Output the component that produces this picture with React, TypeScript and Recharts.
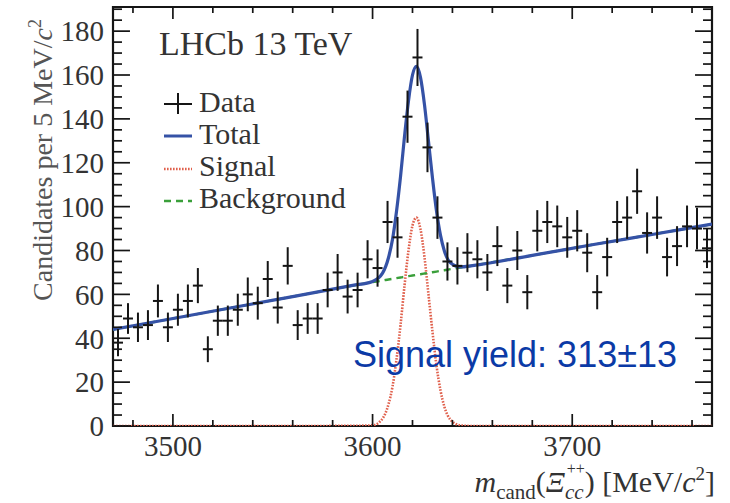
import { ComposedChart, Line, Scatter, ErrorBar, XAxis, YAxis, ReferenceLine, ReferenceArea } from 'recharts'

// candidates per 5 MeV bin, from 3470 to 3770 MeV
const counts = [
  38, 49, 45, 46, 57, 45, 53, 57, 64, 35,
  48, 48, 53, 60, 56, 67, 54, 73, 46, 49,
  49, 62, 70, 59, 62, 76, 72, 93, 86, 141,
  168, 127, 95, 75, 73, 79, 76, 70, 82, 64,
  80, 61, 89, 93, 91, 86, 89, 79, 61, 77,
  93, 95, 107, 88, 95, 77, 82, 91, 90, 81
]
const countErrors = [
  6.2, 7.0, 6.7, 6.8, 7.5, 6.7, 7.3, 7.5, 8.0, 5.9,
  6.9, 6.9, 7.3, 7.7, 7.5, 8.2, 7.3, 8.5, 6.8, 7.0,
  7.0, 7.9, 8.4, 7.7, 7.9, 8.7, 8.5, 9.6, 9.3, 11.9,
  13.0, 11.3, 9.7, 8.7, 8.5, 8.9, 8.7, 8.4, 9.1, 8.0,
  8.9, 7.8, 9.4, 9.6, 9.5, 9.3, 9.4, 8.9, 7.8, 8.8,
  9.6, 9.7, 10.3, 9.4, 9.7, 8.8, 9.1, 9.5, 9.5, 9.0
]
const massMin = 3470
const massMax = 3770
const binWidth = 5

// fit curves sampled along the mass axis
const curveMass = [
  3470, 3500, 3530, 3560, 3590, 3600, 3605, 3608, 3610, 3612, 3614, 3616, 3618, 3620,
  3622, 3624, 3626, 3628, 3630, 3632, 3634, 3636, 3639, 3644, 3650, 3680, 3710, 3740, 3770
]
const signalFit = [
  0, 0, 0, 0, 0.1, 0.3, 3.4, 10, 18, 30.5, 46, 64, 80, 91.4,
  95, 89.7, 77, 60, 43, 27.7, 16.3, 8.7, 2.9, 0.3, 0, 0, 0, 0, 0
]
const backgroundFit = [
  44, 49, 54, 59, 64, 65.6, 66.3, 66.8, 67.1, 67.4, 67.7, 68, 68.3, 68.6,
  68.9, 69.2, 69.5, 69.8, 70.1, 70.4, 70.7, 71, 71.5, 72.2, 73.1, 77.8, 82.6, 87.3, 92
]
const totalFit = [
  44, 49, 54, 59, 64.1, 65.9, 69.7, 76.8, 85.1, 97.9, 113.7, 132, 148.3, 160,
  163.9, 158.9, 146.5, 129.8, 113.1, 98.1, 87, 79.7, 74.4, 72.5, 73.1, 77.8, 82.6, 87.3, 92
]

const xTickLabels = [3500, 3600, 3700]
const yTickLabels = [0, 20, 40, 60, 80, 100, 120, 140, 160, 180]
const yMax = 191

const dataPoints = counts.map((v, i) => ({
  m: massMin + binWidth * (i + 0.5),
  v,
  err: countErrors[i],
  xerr: binWidth / 2
}))
const toCurve = (vals: number[]) => curveMass.map((m, i) => ({ m, v: vals[i] }))

const BLUE = '#3552a6'
const RED = '#e0604c'
const GREEN = '#3a9f3a'
const INK = '#151515'
const serif = '"Liberation Serif", "Times New Roman", serif'

// inward tick marks on all four sides
const xMinor: number[] = []
for (let m = 3480; m < massMax; m += 20) xMinor.push(m)
const yMinor: number[] = []
for (let y = 0; y <= 190; y += 5) yMinor.push(y)

const pxPerY = 419 / yMax
const pxPerX = 2

function tickLines() {
  const out: any[] = []
  xMinor.forEach((m) => {
    const len = (m % 100 === 0 ? 12 : 6) / pxPerY
    out.push(<ReferenceLine key={'xb' + m} segment={[{ x: m, y: 0 }, { x: m, y: len }]} stroke={INK} strokeWidth={1.7} />)
    out.push(<ReferenceLine key={'xt' + m} segment={[{ x: m, y: yMax }, { x: m, y: yMax - len }]} stroke={INK} strokeWidth={1.7} />)
  })
  yMinor.forEach((y) => {
    const len = (y % 20 === 0 ? 17 : 9) / pxPerX
    out.push(<ReferenceLine key={'yl' + y} segment={[{ x: massMin, y }, { x: massMin + len, y }]} stroke={INK} strokeWidth={1.7} />)
    out.push(<ReferenceLine key={'yr' + y} segment={[{ x: massMax, y }, { x: massMax - len, y }]} stroke={INK} strokeWidth={1.7} />)
  })
  return out
}

export default function App() {
  return (
    <div style={{ position: 'absolute', left: 0, top: 0, width: 730, height: 503, background: '#fff' }}>
      <ComposedChart width={730} height={503} margin={{ top: 7, right: 18, bottom: 0, left: 0 }}>
        <XAxis
          type="number"
          dataKey="m"
          domain={[massMin, massMax]}
          ticks={xTickLabels}
          allowDataOverflow
          height={77}
          tickLine={false}
          axisLine={false}
          tickSize={0}
          tickMargin={9}
          tick={{ fontSize: 29, fill: '#333', fontFamily: serif }}
        />
        <YAxis
          type="number"
          dataKey="v"
          domain={[0, yMax]}
          ticks={yTickLabels}
          interval={0}
          allowDataOverflow
          width={113}
          tickLine={false}
          axisLine={false}
          tickSize={0}
          tickMargin={9}
          tick={{ fontSize: 29, fill: '#333', fontFamily: serif }}
        />
        <Line data={toCurve(signalFit)} dataKey="v" type="monotone" stroke={RED} strokeWidth={2.6} strokeDasharray="1.6 1.4" dot={false} isAnimationActive={false} />
        <Line data={toCurve(backgroundFit)} dataKey="v" type="monotone" stroke={GREEN} strokeWidth={2.4} strokeDasharray="7 5" dot={false} isAnimationActive={false} />
        <Line data={toCurve(totalFit)} dataKey="v" type="monotone" stroke={BLUE} strokeWidth={3.2} dot={false} isAnimationActive={false} />
        <Scatter data={dataPoints} dataKey="v" shape={() => <g />} isAnimationActive={false}>
          <ErrorBar dataKey="err" direction="y" width={0} stroke={INK} strokeWidth={2} />
          <ErrorBar dataKey="xerr" direction="x" width={0} stroke={INK} strokeWidth={2} />
        </Scatter>
        {tickLines()}
        <ReferenceArea x1={massMin} x2={massMax} y1={0} y2={yMax} fill="none" stroke={INK} strokeWidth={2.2} />
      </ComposedChart>

      <svg width={730} height={503} style={{ position: 'absolute', left: 0, top: 0, pointerEvents: 'none' }}>
        <text x={159} y={55} fontFamily={serif} fontSize={34} fill="#333">LHCb 13 TeV</text>

        <line x1={164} x2={192} y1={104} y2={104} stroke={INK} strokeWidth={2} />
        <line x1={178} x2={178} y1={93} y2={114} stroke={INK} strokeWidth={2} />
        <line x1={164} x2={192} y1={136} y2={136} stroke={BLUE} strokeWidth={3} />
        <line x1={164} x2={192} y1={169} y2={169} stroke={RED} strokeWidth={2.4} strokeDasharray="1.6 1.4" />
        <line x1={164} x2={192} y1={201} y2={201} stroke={GREEN} strokeWidth={2.4} strokeDasharray="7 5" />
        <g fontFamily={serif} fontSize={30} fill="#333">
          <text x={199} y={112}>Data</text>
          <text x={199} y={144}>Total</text>
          <text x={199} y={176}>Signal</text>
          <text x={199} y={208}>Background</text>
        </g>

        <text x={353} y={367} fontFamily='"Liberation Sans", Arial, sans-serif' fontSize={36} fill="#0b3aa6">Signal yield: 313±13</text>

        <text transform="translate(52,160) rotate(-90)" textAnchor="middle" fontFamily={serif} fontSize={28} fill="#555">
          Candidates per 5 MeV/<tspan fontStyle="italic">c</tspan>
          <tspan fontSize={18} dy={-11}>2</tspan>
        </text>

        <text x={715} y={492} textAnchor="end" fontFamily={serif} fontSize={30} fill="#333">
          <tspan fontStyle="italic">m</tspan>
          <tspan fontSize={21} dy={7}>cand</tspan>
          <tspan dy={-7}>(</tspan>
          <tspan fontStyle="italic">Ξ</tspan>
          <tspan fontStyle="italic" fontSize={21} dy={7}>cc</tspan>
          <tspan fontSize={16} dx={-17} dy={-25}>++</tspan>
          <tspan dy={18}>) [MeV/</tspan>
          <tspan fontStyle="italic">c</tspan>
          <tspan fontSize={19} dy={-12}>2</tspan>
          <tspan dy={12}>]</tspan>
        </text>
      </svg>
    </div>
  )
}
